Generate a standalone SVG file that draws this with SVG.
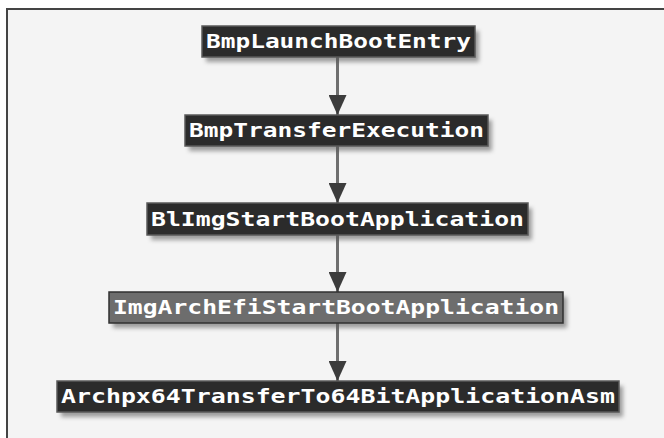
<svg xmlns="http://www.w3.org/2000/svg" width="664" height="438" viewBox="0 0 664 438">
<defs>
<style>
.box{fill:#2b2b2b;stroke:#5a5a5a;stroke-width:1.5}
.box.hl{fill:#6d6d6d;stroke:#303030}
.lbl{font-family:"DejaVu Sans Mono","Liberation Mono",monospace;font-weight:bold;font-size:20px;fill:#ffffff}
.edge{stroke:#6e6e6e;stroke-width:3;fill:none}
.shadow{fill:#555555;opacity:0.55}
</style>
<filter id="blur" x="-10%" y="-50%" width="120%" height="200%"><feGaussianBlur stdDeviation="2.2"/></filter>
<marker id="arr" markerWidth="20" markerHeight="18" refX="20" refY="9" orient="auto" markerUnits="userSpaceOnUse" viewBox="0 0 20 18">
<path d="M0,0 L20,9 L0,18 Z" fill="#3c3c3c"/>
</marker>
</defs>
<rect x="0" y="0" width="664" height="438" fill="#ffffff"/>
<rect x="7" y="9" width="657" height="429" fill="#f4f4f4"/>
<path d="M7,438 L7,9 L664,9" stroke="#444444" stroke-width="2" fill="none"/>
<g id="connectors">
<line class="edge" x1="337.5" y1="57" x2="337.5" y2="115" marker-end="url(#arr)"/>
<line class="edge" x1="337.5" y1="146" x2="337.5" y2="203" marker-end="url(#arr)"/>
<line class="edge" x1="337.5" y1="235" x2="337.5" y2="292" marker-end="url(#arr)"/>
<line class="edge" x1="337.5" y1="323" x2="337.5" y2="381" marker-end="url(#arr)"/>
</g>
<g id="n1">
<rect class="shadow" x="206" y="31" width="273" height="31" filter="url(#blur)"/>
<rect class="box" x="202" y="26" width="273" height="31"/>
<text class="lbl" x="206" y="48" textLength="265" lengthAdjust="spacingAndGlyphs">BmpLaunchBootEntry</text>
</g>
<g id="n2">
<rect class="shadow" x="189" y="120" width="303" height="31" filter="url(#blur)"/>
<rect class="box" x="185" y="115" width="303" height="31"/>
<text class="lbl" x="189" y="137" textLength="295" lengthAdjust="spacingAndGlyphs">BmpTransferExecution</text>
</g>
<g id="n3">
<rect class="shadow" x="151" y="208" width="381" height="32" filter="url(#blur)"/>
<rect class="box" x="147" y="203" width="381" height="32"/>
<text class="lbl" x="151" y="226" textLength="373" lengthAdjust="spacingAndGlyphs">BlImgStartBootApplication</text>
</g>
<g id="n4">
<rect class="shadow" x="113" y="297" width="454" height="31" filter="url(#blur)"/>
<rect class="box hl" x="109" y="292" width="454" height="31"/>
<text class="lbl" x="113" y="314" textLength="446" lengthAdjust="spacingAndGlyphs">ImgArchEfiStartBootApplication</text>
</g>
<g id="n5">
<rect class="shadow" x="61" y="386" width="562" height="31" filter="url(#blur)"/>
<rect class="box" x="57" y="381" width="562" height="31"/>
<text class="lbl" x="61" y="403" textLength="554" lengthAdjust="spacingAndGlyphs">Archpx64TransferTo64BitApplicationAsm</text>
</g>
</svg>
